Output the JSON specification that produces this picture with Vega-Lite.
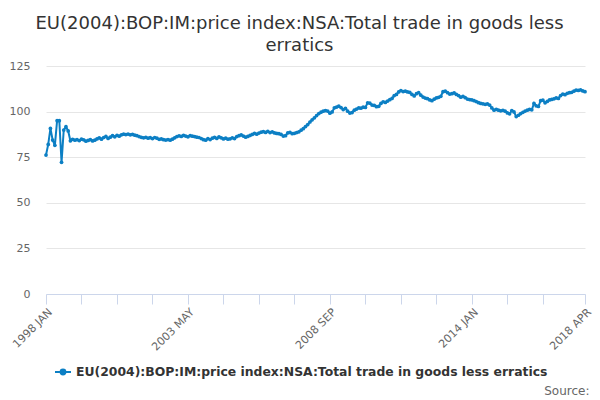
{
  "$schema": "https://vega.github.io/schema/vega-lite/v6.json",
  "width": 539,
  "height": 228,
  "autosize": {"type": "none"},
  "padding": {"left": 46, "top": 66, "right": 15, "bottom": 106},
  "background": "white",
  "title": {
    "text": ["EU(2004):BOP:IM:price index:NSA:Total trade in goods less", "erratics"],
    "font": "DejaVu Sans",
    "fontSize": 18,
    "fontWeight": "normal",
    "color": "#333333",
    "anchor": "middle",
    "dx": -16,
    "offset": 5,
    "lineHeight": 22
  },
  "config": {
    "view": {"stroke": null},
    "font": "DejaVu Sans"
  },
  "data": {
    "values": [
      {"month": "1998 JAN", "value": 76.2}, {"month": "1998 FEB", "value": 82.0}, {"month": "1998 MAR", "value": 90.8}, {"month": "1998 APR", "value": 84.4},
      {"month": "1998 MAY", "value": 81.5}, {"month": "1998 JUN", "value": 95.0}, {"month": "1998 JUL", "value": 95.0}, {"month": "1998 AUG", "value": 72.2},
      {"month": "1998 SEP", "value": 89.9}, {"month": "1998 OCT", "value": 91.7}, {"month": "1998 NOV", "value": 89.4}, {"month": "1998 DEC", "value": 84.0},
      {"month": "1999 JAN", "value": 84.8}, {"month": "1999 FEB", "value": 84.3}, {"month": "1999 MAR", "value": 84.6}, {"month": "1999 APR", "value": 84.1},
      {"month": "1999 MAY", "value": 84.9}, {"month": "1999 JUN", "value": 84.5}, {"month": "1999 JUL", "value": 83.8}, {"month": "1999 AUG", "value": 84.2},
      {"month": "1999 SEP", "value": 84.6}, {"month": "1999 OCT", "value": 83.9}, {"month": "1999 NOV", "value": 84.3}, {"month": "1999 DEC", "value": 85.0},
      {"month": "2000 JAN", "value": 85.6}, {"month": "2000 FEB", "value": 84.9}, {"month": "2000 MAR", "value": 85.8}, {"month": "2000 APR", "value": 86.4},
      {"month": "2000 MAY", "value": 85.3}, {"month": "2000 JUN", "value": 86.0}, {"month": "2000 JUL", "value": 86.8}, {"month": "2000 AUG", "value": 86.2},
      {"month": "2000 SEP", "value": 87.0}, {"month": "2000 OCT", "value": 86.5}, {"month": "2000 NOV", "value": 87.3}, {"month": "2000 DEC", "value": 87.6},
      {"month": "2001 JAN", "value": 87.4}, {"month": "2001 FEB", "value": 87.7}, {"month": "2001 MAR", "value": 87.3}, {"month": "2001 APR", "value": 87.5},
      {"month": "2001 MAY", "value": 87.1}, {"month": "2001 JUN", "value": 86.8}, {"month": "2001 JUL", "value": 86.3}, {"month": "2001 AUG", "value": 85.9},
      {"month": "2001 SEP", "value": 85.6}, {"month": "2001 OCT", "value": 85.9}, {"month": "2001 NOV", "value": 85.4}, {"month": "2001 DEC", "value": 85.7},
      {"month": "2002 JAN", "value": 85.2}, {"month": "2002 FEB", "value": 85.8}, {"month": "2002 MAR", "value": 85.4}, {"month": "2002 APR", "value": 84.8},
      {"month": "2002 MAY", "value": 85.0}, {"month": "2002 JUN", "value": 84.6}, {"month": "2002 JUL", "value": 84.4}, {"month": "2002 AUG", "value": 84.7},
      {"month": "2002 SEP", "value": 84.3}, {"month": "2002 OCT", "value": 84.9}, {"month": "2002 NOV", "value": 85.6}, {"month": "2002 DEC", "value": 86.3},
      {"month": "2003 JAN", "value": 86.7}, {"month": "2003 FEB", "value": 86.4}, {"month": "2003 MAR", "value": 86.9}, {"month": "2003 APR", "value": 86.6},
      {"month": "2003 MAY", "value": 86.2}, {"month": "2003 JUN", "value": 86.8}, {"month": "2003 JUL", "value": 86.5}, {"month": "2003 AUG", "value": 86.3},
      {"month": "2003 SEP", "value": 86.0}, {"month": "2003 OCT", "value": 85.8}, {"month": "2003 NOV", "value": 85.2}, {"month": "2003 DEC", "value": 84.6},
      {"month": "2004 JAN", "value": 84.3}, {"month": "2004 FEB", "value": 85.2}, {"month": "2004 MAR", "value": 84.7}, {"month": "2004 APR", "value": 85.4},
      {"month": "2004 MAY", "value": 85.9}, {"month": "2004 JUN", "value": 85.3}, {"month": "2004 JUL", "value": 86.1}, {"month": "2004 AUG", "value": 85.6},
      {"month": "2004 SEP", "value": 85.0}, {"month": "2004 OCT", "value": 85.4}, {"month": "2004 NOV", "value": 84.9}, {"month": "2004 DEC", "value": 85.1},
      {"month": "2005 JAN", "value": 85.6}, {"month": "2005 FEB", "value": 85.2}, {"month": "2005 MAR", "value": 86.3}, {"month": "2005 APR", "value": 86.8},
      {"month": "2005 MAY", "value": 87.2}, {"month": "2005 JUN", "value": 86.6}, {"month": "2005 JUL", "value": 86.0}, {"month": "2005 AUG", "value": 86.4},
      {"month": "2005 SEP", "value": 86.9}, {"month": "2005 OCT", "value": 87.5}, {"month": "2005 NOV", "value": 88.0}, {"month": "2005 DEC", "value": 87.6},
      {"month": "2006 JAN", "value": 88.2}, {"month": "2006 FEB", "value": 88.7}, {"month": "2006 MAR", "value": 89.0}, {"month": "2006 APR", "value": 88.6},
      {"month": "2006 MAY", "value": 89.2}, {"month": "2006 JUN", "value": 88.5}, {"month": "2006 JUL", "value": 88.9}, {"month": "2006 AUG", "value": 88.3},
      {"month": "2006 SEP", "value": 88.0}, {"month": "2006 OCT", "value": 87.9}, {"month": "2006 NOV", "value": 87.5}, {"month": "2006 DEC", "value": 86.6},
      {"month": "2007 JAN", "value": 86.8}, {"month": "2007 FEB", "value": 88.3}, {"month": "2007 MAR", "value": 88.6}, {"month": "2007 APR", "value": 87.9},
      {"month": "2007 MAY", "value": 88.1}, {"month": "2007 JUN", "value": 88.5}, {"month": "2007 JUL", "value": 88.9}, {"month": "2007 AUG", "value": 89.8},
      {"month": "2007 SEP", "value": 90.6}, {"month": "2007 OCT", "value": 91.8}, {"month": "2007 NOV", "value": 92.9}, {"month": "2007 DEC", "value": 94.3},
      {"month": "2008 JAN", "value": 95.5}, {"month": "2008 FEB", "value": 96.6}, {"month": "2008 MAR", "value": 97.8}, {"month": "2008 APR", "value": 98.9},
      {"month": "2008 MAY", "value": 99.7}, {"month": "2008 JUN", "value": 100.2}, {"month": "2008 JUL", "value": 100.6}, {"month": "2008 AUG", "value": 100.3},
      {"month": "2008 SEP", "value": 99.1}, {"month": "2008 OCT", "value": 99.8}, {"month": "2008 NOV", "value": 102.1}, {"month": "2008 DEC", "value": 102.5},
      {"month": "2009 JAN", "value": 103.0}, {"month": "2009 FEB", "value": 102.2}, {"month": "2009 MAR", "value": 101.1}, {"month": "2009 APR", "value": 101.8},
      {"month": "2009 MAY", "value": 100.2}, {"month": "2009 JUN", "value": 99.2}, {"month": "2009 JUL", "value": 99.5}, {"month": "2009 AUG", "value": 100.8},
      {"month": "2009 SEP", "value": 101.4}, {"month": "2009 OCT", "value": 102.0}, {"month": "2009 NOV", "value": 101.9}, {"month": "2009 DEC", "value": 102.4},
      {"month": "2010 JAN", "value": 102.3}, {"month": "2010 FEB", "value": 104.8}, {"month": "2010 MAR", "value": 104.6}, {"month": "2010 APR", "value": 103.6},
      {"month": "2010 MAY", "value": 103.4}, {"month": "2010 JUN", "value": 102.7}, {"month": "2010 JUL", "value": 102.9}, {"month": "2010 AUG", "value": 104.5},
      {"month": "2010 SEP", "value": 105.4}, {"month": "2010 OCT", "value": 105.0}, {"month": "2010 NOV", "value": 105.8}, {"month": "2010 DEC", "value": 106.5},
      {"month": "2011 JAN", "value": 107.2}, {"month": "2011 FEB", "value": 108.8}, {"month": "2011 MAR", "value": 109.4}, {"month": "2011 APR", "value": 110.8},
      {"month": "2011 MAY", "value": 111.5}, {"month": "2011 JUN", "value": 111.0}, {"month": "2011 JUL", "value": 111.2}, {"month": "2011 AUG", "value": 110.8},
      {"month": "2011 SEP", "value": 110.5}, {"month": "2011 OCT", "value": 109.4}, {"month": "2011 NOV", "value": 108.6}, {"month": "2011 DEC", "value": 109.8},
      {"month": "2012 JAN", "value": 110.4}, {"month": "2012 FEB", "value": 109.0}, {"month": "2012 MAR", "value": 108.0}, {"month": "2012 APR", "value": 107.4},
      {"month": "2012 MAY", "value": 107.1}, {"month": "2012 JUN", "value": 106.4}, {"month": "2012 JUL", "value": 106.0}, {"month": "2012 AUG", "value": 106.8},
      {"month": "2012 SEP", "value": 107.5}, {"month": "2012 OCT", "value": 107.8}, {"month": "2012 NOV", "value": 108.4}, {"month": "2012 DEC", "value": 110.9},
      {"month": "2013 JAN", "value": 111.2}, {"month": "2013 FEB", "value": 110.4}, {"month": "2013 MAR", "value": 109.6}, {"month": "2013 APR", "value": 109.8},
      {"month": "2013 MAY", "value": 110.2}, {"month": "2013 JUN", "value": 109.4}, {"month": "2013 JUL", "value": 108.8}, {"month": "2013 AUG", "value": 107.9},
      {"month": "2013 SEP", "value": 108.3}, {"month": "2013 OCT", "value": 107.6}, {"month": "2013 NOV", "value": 106.9}, {"month": "2013 DEC", "value": 106.6},
      {"month": "2014 JAN", "value": 106.4}, {"month": "2014 FEB", "value": 106.0}, {"month": "2014 MAR", "value": 105.5}, {"month": "2014 APR", "value": 104.9},
      {"month": "2014 MAY", "value": 104.5}, {"month": "2014 JUN", "value": 104.3}, {"month": "2014 JUL", "value": 104.0}, {"month": "2014 AUG", "value": 104.2},
      {"month": "2014 SEP", "value": 103.6}, {"month": "2014 OCT", "value": 102.0}, {"month": "2014 NOV", "value": 100.8}, {"month": "2014 DEC", "value": 101.2},
      {"month": "2015 JAN", "value": 100.8}, {"month": "2015 FEB", "value": 100.4}, {"month": "2015 MAR", "value": 100.7}, {"month": "2015 APR", "value": 100.2},
      {"month": "2015 MAY", "value": 99.3}, {"month": "2015 JUN", "value": 98.8}, {"month": "2015 JUL", "value": 100.6}, {"month": "2015 AUG", "value": 99.8},
      {"month": "2015 SEP", "value": 97.3}, {"month": "2015 OCT", "value": 98.0}, {"month": "2015 NOV", "value": 98.9}, {"month": "2015 DEC", "value": 99.6},
      {"month": "2016 JAN", "value": 100.3}, {"month": "2016 FEB", "value": 100.8}, {"month": "2016 MAR", "value": 101.2}, {"month": "2016 APR", "value": 101.0},
      {"month": "2016 MAY", "value": 104.5}, {"month": "2016 JUN", "value": 103.2}, {"month": "2016 JUL", "value": 102.8}, {"month": "2016 AUG", "value": 106.0},
      {"month": "2016 SEP", "value": 106.3}, {"month": "2016 OCT", "value": 104.8}, {"month": "2016 NOV", "value": 105.6}, {"month": "2016 DEC", "value": 106.4},
      {"month": "2017 JAN", "value": 106.7}, {"month": "2017 FEB", "value": 107.0}, {"month": "2017 MAR", "value": 107.5}, {"month": "2017 APR", "value": 107.2},
      {"month": "2017 MAY", "value": 108.8}, {"month": "2017 JUN", "value": 109.6}, {"month": "2017 JUL", "value": 109.3}, {"month": "2017 AUG", "value": 110.0},
      {"month": "2017 SEP", "value": 110.4}, {"month": "2017 OCT", "value": 110.6}, {"month": "2017 NOV", "value": 111.2}, {"month": "2017 DEC", "value": 111.8},
      {"month": "2018 JAN", "value": 111.6}, {"month": "2018 FEB", "value": 111.9}, {"month": "2018 MAR", "value": 111.3}, {"month": "2018 APR", "value": 110.9}
    ]
  },
  "mark": {
    "type": "line",
    "strokeWidth": 2,
    "point": {"filled": true, "size": 14}
  },
  "encoding": {
    "x": {
      "field": "month",
      "type": "ordinal",
      "sort": null,
      "scale": {"type": "point", "padding": 0},
      "title": "Source:",
      "axis": {
        "values": ["1998 JAN", "1999 MAY", "2000 SEP", "2002 JAN", "2003 MAY", "2004 SEP", "2006 JAN", "2007 MAY", "2008 SEP", "2010 JAN", "2011 MAY", "2012 SEP", "2014 JAN", "2015 MAY", "2016 SEP", "2018 APR"],
        "labelExpr": "indexof(['1998 JAN', '2003 MAY', '2008 SEP', '2014 JAN', '2018 APR'], datum.value) >= 0 ? datum.value : ''",
        "labelAngle": -45,
        "labelAlign": "right",
        "labelBaseline": "top",
        "labelFontSize": 11,
        "labelColor": "#666666",
        "labelPadding": 2,
        "labelOverlap": false,
        "domainColor": "#ccd6eb",
        "tickColor": "#ccd6eb",
        "tickSize": 10,
        "grid": false,
        "titleFontSize": 12,
        "titleFontWeight": "normal",
        "titleColor": "#666666",
        "titleAnchor": "end",
        "titleAlign": "right",
        "titleBaseline": "alphabetic",
        "titleX": 543,
        "titleY": 100
      }
    },
    "y": {
      "field": "value",
      "type": "quantitative",
      "title": null,
      "scale": {"domain": [0, 125], "nice": false},
      "axis": {
        "values": [0, 25, 50, 75, 100, 125],
        "domain": false,
        "ticks": false,
        "labelPadding": 16,
        "labelFontSize": 11,
        "labelColor": "#666666",
        "gridColor": "#e6e6e6"
      }
    },
    "color": {
      "datum": "EU(2004):BOP:IM:price index:NSA:Total trade in goods less erratics",
      "type": "nominal",
      "scale": {"range": ["#0c7fc4"]},
      "legend": {
        "title": null,
        "orient": "none",
        "legendX": 8,
        "legendY": 297,
        "symbolType": "M-1,0H1M-0.3,0A0.3,0.3,0,1,0,0.3,0A0.3,0.3,0,1,0,-0.3,0",
        "symbolSize": 256,
        "symbolStrokeWidth": 2,
        "symbolFillColor": "#0c7fc4",
        "symbolStrokeColor": "#0c7fc4",
        "labelFontSize": 12.4,
        "labelFontWeight": "bold",
        "labelColor": "#333333",
        "labelLimit": 0
      }
    }
  }
}
